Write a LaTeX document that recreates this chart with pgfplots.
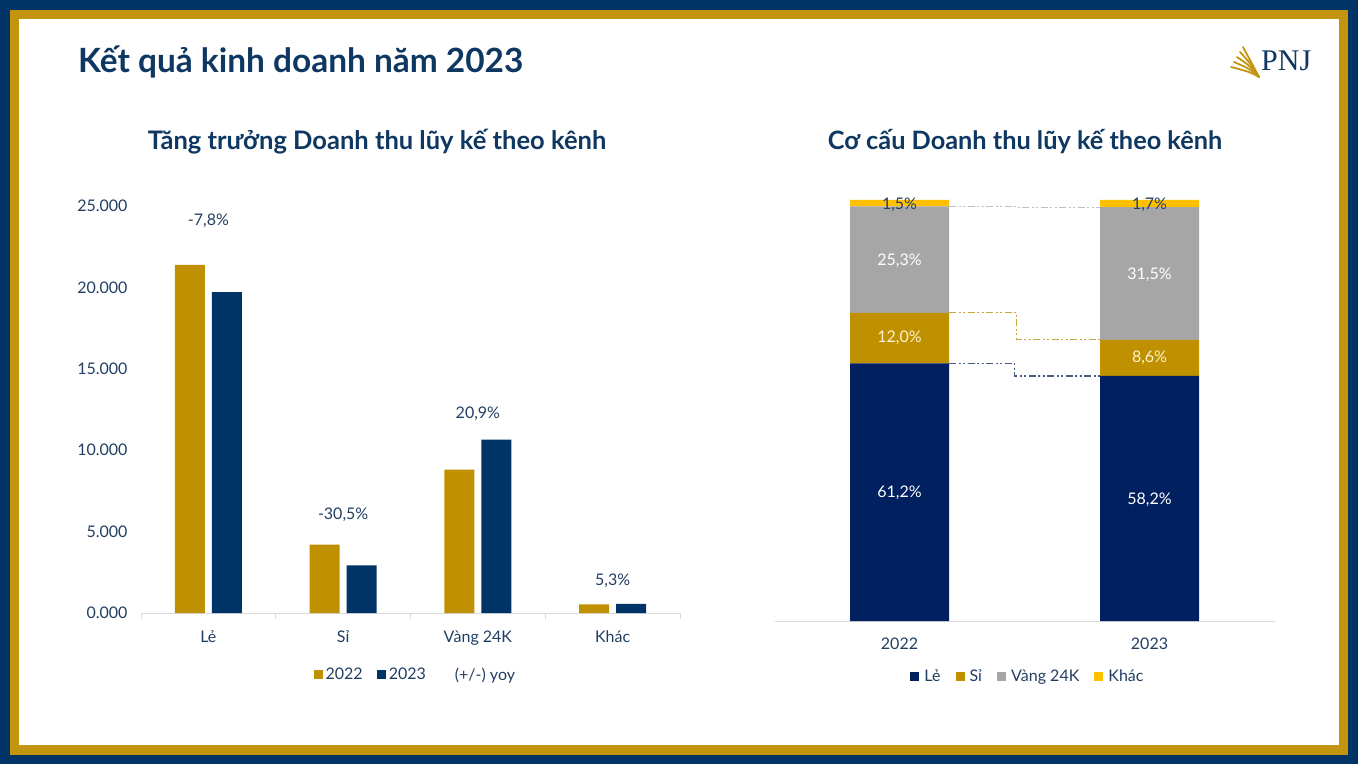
\documentclass[border=0pt]{standalone}
\usepackage{pgfplots}
\pgfplotsset{compat=1.18}
\usepackage{fontspec}
\setmainfont{Lato}
\newfontfamily\logofont{Liberation Serif}

\definecolor{framenavy}{HTML}{003366}
\definecolor{framegold}{HTML}{C3950F}
\definecolor{titlenavy}{HTML}{0E3762}
\definecolor{labelnavy}{HTML}{223F63}
\definecolor{bargold}{HTML}{BF9000}
\definecolor{barnavy}{HTML}{003366}
\definecolor{lenavy}{HTML}{002060}
\definecolor{vanggrey}{HTML}{A6A6A6}
\definecolor{khacyellow}{HTML}{FFC000}
\definecolor{axisgrey}{HTML}{D9D9D9}
\definecolor{linkgrey}{HTML}{BFBFBF}
\definecolor{linkgold}{HTML}{C9A640}
\definecolor{linknavy}{HTML}{4A5C82}
\definecolor{cream}{HTML}{FFF2CC}

\tikzset{lbl/.style={font=\fontsize{16}{19}\selectfont}}
\pgfplotsset{
  sqlegend/.style={legend image code/.code={\fill[##1] (0pt,-4.5pt) rectangle (9pt,4.5pt);}},
}

\begin{document}
\begin{tikzpicture}
% frame
\fill[framenavy] (0pt,0pt) rectangle (1358pt,764pt);
\fill[framegold] (10pt,9pt) rectangle (1348pt,754pt);
\fill[white] (19pt,19pt) rectangle (1339pt,745pt);

% titles
\node[anchor=west, inner sep=0, text=titlenavy, font=\fontsize{33.4}{38}\selectfont\bfseries] at (78pt,702pt) {Kết quả kinh doanh năm 2023};
\node[inner sep=0, text=titlenavy, font=\fontsize{25.5}{30}\selectfont\bfseries] at (377pt,622pt) {Tăng trưởng Doanh thu lũy kế theo kênh};
\node[inner sep=0, text=titlenavy, font=\fontsize{25.3}{30}\selectfont\bfseries] at (1025pt,622pt) {Cơ cấu Doanh thu lũy kế theo kênh};

% logo
\begin{scope}[x=1pt,y=1pt]
\foreach \k in {0,1,2,3,4}{
  \draw[framegold, line width=1.8pt, line cap=round] (1259,687) .. controls (1250,{692+\k*3}) .. ({1231+\k*3},{697+\k*5});
}
\end{scope}
\node[anchor=west, inner sep=0, text=titlenavy, font=\logofont\fontsize{30}{34}\selectfont] at (1261pt,703pt) {PNJ};

% left chart: growth by channel
\begin{axis}[
  at={(141pt,151pt)}, anchor=south west, scale only axis,
  width=539pt, height=407pt,
  xmin=-0.5, xmax=3.5, ymin=0, ymax=25000,
  axis lines=left, axis line style={-},
  y axis line style={draw=none},
  x axis line style={draw=axisgrey, line width=1pt},
  xtick={0,1,2,3}, xticklabels={Lẻ,Sỉ,Vàng 24K,Khác},
  minor xtick={-0.5,0.5,1.5,2.5,3.5},
  major tick length=0pt, minor tick length=6pt, tick align=outside,
  minor x tick style={draw=axisgrey, line width=1pt},
  ytick={0,5000,10000,15000,20000,25000},
  yticklabels={0.000,5.000,10.000,15.000,20.000,25.000},
  scaled y ticks=false,
  tick label style={lbl, text=labelnavy},
  yticklabel style={xshift=-10pt},
  xticklabel style={yshift=-14pt},
  clip=false,
  legend columns=-1,
  legend style={draw=none, fill=none, at={(0.509,-0.152)}, anchor=center,
    font=\fontsize{16}{19}\selectfont, text=labelnavy,
    /tikz/every odd column/.append style={column sep=1pt},
    /tikz/every even column/.append style={column sep=12pt}},
]
\addplot[ybar, bar width=30pt, bar shift=-18.5pt, fill=bargold, draw=none, sqlegend]
  coordinates {(0,21380) (1,4200) (2,8810) (3,525)};
\addplot[ybar, bar width=30pt, bar shift=18.5pt, fill=barnavy, draw=none, sqlegend]
  coordinates {(0,19710) (1,2920) (2,10650) (3,553)};
\addplot[draw=none, mark=none, nodes near coords, point meta=explicit symbolic,
  every node near coord/.append style={anchor=center, lbl, text=labelnavy},
  legend image code/.code={}]
  coordinates {(0,24080) [{-7,8\%}] (1,6020) [{-30,5\%}] (2,12220) [{20,9\%}] (3,1970) [{5,3\%}]};
\legend{2022,2023,\hspace*{12pt}(+/-) yoy}
\end{axis}

% right chart: structure by channel
\begin{axis}[
  at={(774.5pt,143pt)}, anchor=south west, scale only axis,
  width=500pt, height=421pt,
  xmin=-0.5, xmax=1.5, ymin=0, ymax=100,
  ybar stacked, bar width=99pt,
  axis lines=left, axis line style={-},
  y axis line style={draw=none},
  x axis line style={draw=axisgrey, line width=1pt},
  ytick=\empty, xtick={0,1}, xticklabels={2022,2023},
  major tick length=0pt,
  tick label style={lbl, text=labelnavy},
  xticklabel style={yshift=-13pt},
  clip=false,
  legend columns=-1,
  legend style={draw=none, fill=none, at={(0.507,-0.131)}, anchor=center,
    font=\fontsize{16}{19}\selectfont, text=labelnavy,
    /tikz/every odd column/.append style={column sep=3pt},
    /tikz/every even column/.append style={column sep=13pt}},
]
\addplot[fill=lenavy, draw=none, sqlegend] coordinates {(0,61.2) (1,58.2)};
\addplot[fill=bargold, draw=none, sqlegend] coordinates {(0,12.0) (1,8.6)};
\addplot[fill=vanggrey, draw=none, sqlegend] coordinates {(0,25.3) (1,31.5)};
\addplot[fill=khacyellow, draw=none, sqlegend] coordinates {(0,1.5) (1,1.7)};
\legend{Lẻ,Sỉ,Vàng 24K,Khác}
\end{axis}

% overlay: connectors and segment labels
\begin{axis}[
  at={(774.5pt,143pt)}, anchor=south west, scale only axis,
  width=500pt, height=421pt,
  xmin=-0.5, xmax=1.5, ymin=0, ymax=100,
  hide axis, clip=false,
  connector/.style={const plot, line width=1.3pt,
    dash pattern=on 7pt off 2.5pt on 2pt off 2.5pt on 2pt off 2.5pt},
  seglabel/.style={draw=none, mark=none, nodes near coords, point meta=explicit symbolic,
    every node near coord/.append style={anchor=center, lbl, text=#1}},
]
\addplot[connector, linkgrey] coordinates {(0.198,98.5) (0.47,98.3) (0.802,98.3)};
\addplot[connector, linkgold] coordinates {(0.198,73.2) (0.469,66.8) (0.802,66.8)};
\addplot[connector, linknavy] coordinates {(0.198,61.2) (0.459,58.2) (0.802,58.2)};
\addplot[seglabel=white] coordinates {(0,30.4) [{61,2\%}] (1,28.9) [{58,2\%}]};
\addplot[seglabel=cream] coordinates {(0,67.2) [{12,0\%}] (1,62.5) [{8,6\%}]};
\addplot[seglabel=white] coordinates {(0,85.5) [{25,3\%}] (1,82.3) [{31,5\%}]};
\addplot[seglabel=labelnavy] coordinates {(0,98.9) [{1,5\%}] (1,98.9) [{1,7\%}]};
\end{axis}
\end{tikzpicture}
\end{document}
